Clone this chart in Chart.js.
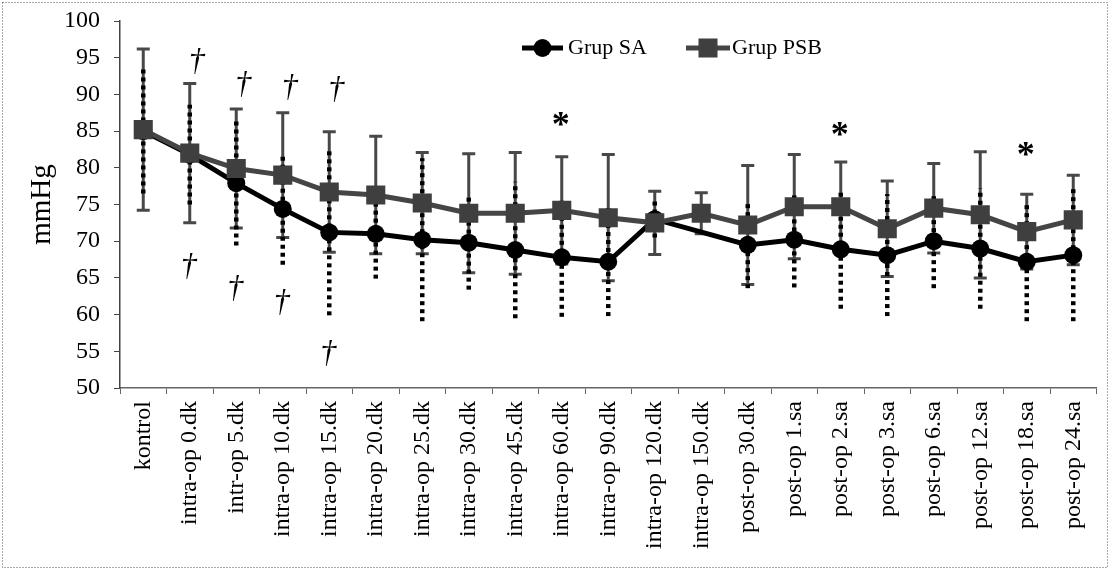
<!DOCTYPE html>
<html><head><meta charset="utf-8">
<script src="https://cdn.jsdelivr.net/npm/chart.js@4/dist/chart.umd.min.js"></script>
<style>html,body{margin:0;padding:0;background:#fff;}#wrap{position:relative;width:1110px;height:576px;}</style>
</head><body><div id="wrap"><canvas id="c" width="1110" height="576"></canvas></div>
<script>
const categories = ['kontrol','intra-op 0.dk','intr-op 5.dk','intra-op 10.dk','intra-op 15.dk','intra-op 20.dk','intra-op 25.dk','intra-op 30.dk','intra-op 45.dk','intra-op 60.dk','intra-op 90.dk','intra-op 120.dk','intra-op 150.dk','post-op 30.dk','post-op 1.sa','post-op 2.sa','post-op 3.sa','post-op 6.sa','post-op 12.sa','post-op 18.sa','post-op 24.sa'];
const saMean  = [85.0, 81.8, 77.9, 74.4, 71.2, 71.0, 70.2, 69.8, 68.8, 67.8, 67.2, 73.0, null, 69.5, 70.2, 68.9, 68.1, 70.0, 69.0, 67.2, 68.1];
const saSD    = [8.5, 6.8, 8.5, 7.6, 11.3, 6.1, 11.1, 6.4, 9.3, 8.1, 7.4, 2.5, null, 5.9, 6.5, 8.1, 8.3, 6.4, 8.2, 8.1, 9.0];
const psbMean = [85.2, 82.0, 79.9, 79.0, 76.7, 76.3, 75.2, 73.8, 73.8, 74.2, 73.2, 72.5, 73.8, 72.2, 74.7, 74.7, 71.7, 74.5, 73.6, 71.3, 72.9];
const psbSD   = [11.0, 9.5, 8.1, 8.5, 8.2, 8.0, 6.9, 8.1, 8.3, 7.3, 8.6, 4.3, 2.8, 8.1, 7.1, 6.1, 6.5, 6.1, 8.6, 5.1, 6.1];
const yMin = 50, yMax = 100, yStep = 5;
const seriesNames = ['Grup SA', 'Grup PSB'];
const daggerAboveAt = [1, 2, 3, 4];
const daggerAboveY  = [94.5, 91.3, 90.9, 90.6];
const daggerBelowAt = [1, 2, 3, 4];
const daggerBelowY  = [66.5, 63.6, 61.7, 54.7];
const starAt = [9, 15, 19];
const starY  = [86.3, 84.9, 82.2];

const SERIF = "'Liberation Serif', 'Times New Roman', serif";
const PSB_COLOR = '#454545';

const errorBars = {
  id: 'errorBars',
  beforeDatasetsDraw(chart) {
    const {ctx, scales: {x, y}} = chart;
    ctx.save();
    ctx.strokeStyle = '#484848'; ctx.lineWidth = 3; ctx.setLineDash([]);
    psbMean.forEach((m, i) => {
      if (m == null) return;
      const px = x.getPixelForValue(i);
      const yt = y.getPixelForValue(m + psbSD[i]), yb = y.getPixelForValue(m - psbSD[i]);
      ctx.beginPath();
      ctx.moveTo(px, yt); ctx.lineTo(px, yb);
      ctx.moveTo(px - 6.5, yt); ctx.lineTo(px + 6.5, yt);
      ctx.moveTo(px - 6.5, yb); ctx.lineTo(px + 6.5, yb);
      ctx.stroke();
    });
    ctx.strokeStyle = '#000'; ctx.lineWidth = 4.5; ctx.setLineDash([4, 4]);
    saMean.forEach((m, i) => {
      if (m == null) return;
      const px = x.getPixelForValue(i);
      const yt = y.getPixelForValue(m + saSD[i]), yb = y.getPixelForValue(m - saSD[i]);
      ctx.beginPath(); ctx.moveTo(px, yb); ctx.lineTo(px, yt); ctx.stroke();
    });
    ctx.restore();
  }
};

const extras = {
  id: 'extras',
  afterDraw(chart) {
    const {ctx, scales: {x, y}} = chart;
    ctx.save();
    ctx.strokeStyle = '#555'; ctx.lineWidth = 1; ctx.setLineDash([1, 2]);
    ctx.strokeRect(2.5, 2.5, 1105, 565);
    ctx.setLineDash([]);
    ctx.fillStyle = '#000';
    ctx.textAlign = 'center'; ctx.textBaseline = 'middle';
    ctx.font = 'italic 32px ' + SERIF;
    daggerAboveAt.forEach((c, k) => ctx.fillText('\u2020', x.getPixelForValue(c) + 7, y.getPixelForValue(daggerAboveY[k])));
    daggerBelowAt.forEach((c, k) => ctx.fillText('\u2020', x.getPixelForValue(c) - 1, y.getPixelForValue(daggerBelowY[k])));
    ctx.font = 'bold 36px ' + SERIF;
    starAt.forEach((c, k) => ctx.fillText('*', x.getPixelForValue(c) - 1, y.getPixelForValue(starY[k]) + 5));
    const ly = 48;
    ctx.font = '22px ' + SERIF; ctx.textAlign = 'left';
    ctx.strokeStyle = '#000'; ctx.lineWidth = 5;
    ctx.beginPath(); ctx.moveTo(522, ly); ctx.lineTo(563, ly); ctx.stroke();
    ctx.beginPath(); ctx.arc(542.5, ly, 9, 0, Math.PI * 2); ctx.fill();
    ctx.fillText(seriesNames[0], 568, ly);
    ctx.strokeStyle = PSB_COLOR; ctx.lineWidth = 5;
    ctx.beginPath(); ctx.moveTo(686, ly); ctx.lineTo(730, ly); ctx.stroke();
    ctx.fillStyle = '#3f3f3f'; ctx.fillRect(698.5, ly - 9.5, 19, 19);
    ctx.fillStyle = '#000';
    ctx.fillText(seriesNames[1], 732, ly);
    ctx.restore();
  }
};

const yTickValues = [];
for (let v = yMin; v <= yMax; v += yStep) yTickValues.push(v);

new Chart(document.getElementById('c'), {
  type: 'line',
  data: {
    labels: categories,
    datasets: [
      {label: seriesNames[0], data: saMean, borderColor: '#000', backgroundColor: '#000', borderWidth: 5,
       pointStyle: 'circle', pointRadius: 9, pointHoverRadius: 9, pointBorderWidth: 0, spanGaps: true, tension: 0, order: 1},
      {label: seriesNames[1], data: psbMean, borderColor: PSB_COLOR, backgroundColor: '#3f3f3f', borderWidth: 5,
       pointStyle: 'rect', pointRadius: 13.5, pointHoverRadius: 13.5, pointBorderWidth: 0, tension: 0, order: 0}
    ]
  },
  options: {
    responsive: false, animation: false, events: [],
    layout: {padding: {top: 21, right: 12, left: 0, bottom: 0}},
    plugins: {legend: {display: false}, tooltip: {enabled: false}},
    scales: {
      x: {
        offset: true,
        grid: {offset: true, drawOnChartArea: false, tickLength: 6, color: '#666', lineWidth: 1},
        border: {color: '#666', width: 1.5},
        ticks: {autoSkip: false, minRotation: 90, maxRotation: 90, padding: 7, color: '#000', font: {family: SERIF, size: 24}},
        afterFit(s) { s.height = 188; s.paddingLeft = 0; s.paddingRight = 0; }
      },
      y: {
        min: yMin, max: yMax,
        afterBuildTicks(s) { s.ticks = yTickValues.map(v => ({value: v})); },
        ticks: {color: '#000', padding: 14, font: {family: SERIF, size: 24}},
        grid: {drawOnChartArea: false, tickLength: 6, color: '#444'},
        border: {color: '#444', width: 1.5},
        title: {display: true, text: 'mmHg', color: '#000', font: {family: SERIF, size: 29}, padding: {top: 25, bottom: 0}},
        afterFit(s) { s.width = 120; s.paddingTop = 0; s.paddingBottom = 0; }
      }
    }
  },
  plugins: [errorBars, extras]
});
</script></body></html>
